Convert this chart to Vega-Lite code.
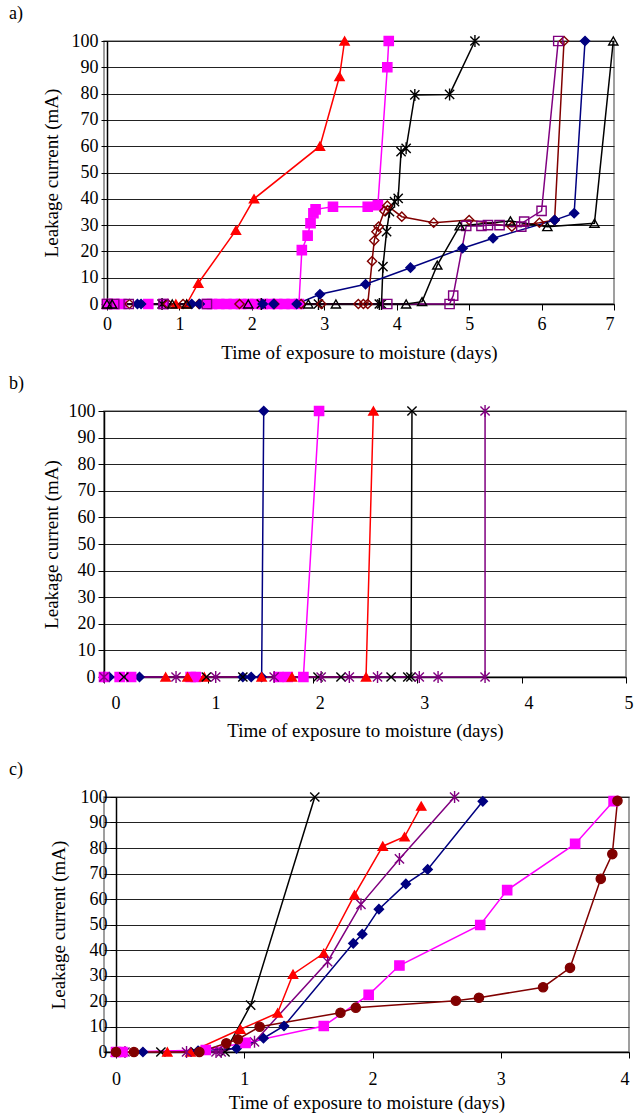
{
  "$schema": "https://vega.github.io/schema/vega-lite/v6.json",
  "background": "white",
  "padding": {"left": 8, "top": 4, "right": 0, "bottom": 0},
  "config": {
    "font": "Liberation Serif",
    "view": {"stroke": "#808080", "strokeWidth": 1.5},
    "axis": {"labelFont": "Liberation Serif", "labelFontSize": 18, "labelColor": "black", "titleFont": "Liberation Serif", "titleFontSize": 19, "titleFontWeight": "normal", "titleColor": "black", "domainColor": "black", "domainWidth": 1.5, "tickColor": "black", "tickSize": 6, "tickWidth": 1},
    "title": {"font": "Liberation Serif", "fontSize": 18, "fontWeight": "normal", "anchor": "start", "color": "black", "frame": "group"}
  },
  "spacing": 11,
  "datasets": {
    "a": [
      {"s": "red", "t": 0, "i": 0}, {"s": "red", "t": 0.07, "i": 0}, {"s": "red", "t": 0.95, "i": 0}, {"s": "red", "t": 1.1, "i": 0}, {"s": "red", "t": 1.26, "i": 7.9}, {"s": "red", "t": 1.78, "i": 28}, {"s": "red", "t": 2.03, "i": 40}, {"s": "red", "t": 2.94, "i": 60}, {"s": "red", "t": 3.21, "i": 86.5}, {"s": "red", "t": 3.28, "i": 100},
      {"s": "mag", "t": 0, "i": 0}, {"s": "mag", "t": 0.1, "i": 0}, {"s": "mag", "t": 0.2, "i": 0}, {"s": "mag", "t": 0.57, "i": 0}, {"s": "mag", "t": 0.78, "i": 0}, {"s": "mag", "t": 1.38, "i": 0}, {"s": "mag", "t": 1.45, "i": 0}, {"s": "mag", "t": 1.55, "i": 0}, {"s": "mag", "t": 1.65, "i": 0}, {"s": "mag", "t": 1.75, "i": 0}, {"s": "mag", "t": 1.85, "i": 0}, {"s": "mag", "t": 1.95, "i": 0}, {"s": "mag", "t": 2.05, "i": 0}, {"s": "mag", "t": 2.15, "i": 0}, {"s": "mag", "t": 2.25, "i": 0}, {"s": "mag", "t": 2.35, "i": 0}, {"s": "mag", "t": 2.45, "i": 0}, {"s": "mag", "t": 2.55, "i": 0}, {"s": "mag", "t": 2.65, "i": 0}, {"s": "mag", "t": 2.69, "i": 20.5}, {"s": "mag", "t": 2.77, "i": 26}, {"s": "mag", "t": 2.81, "i": 30.7}, {"s": "mag", "t": 2.85, "i": 34.5}, {"s": "mag", "t": 2.88, "i": 36}, {"s": "mag", "t": 3.12, "i": 37}, {"s": "mag", "t": 3.6, "i": 37}, {"s": "mag", "t": 3.74, "i": 37.6}, {"s": "mag", "t": 3.87, "i": 90}, {"s": "mag", "t": 3.89, "i": 100},
      {"s": "blkA", "t": 0.76, "i": 0}, {"s": "blkA", "t": 2.13, "i": 0}, {"s": "blkA", "t": 2.92, "i": 0}, {"s": "blkA", "t": 3.76, "i": 0}, {"s": "blkA", "t": 3.79, "i": 0}, {"s": "blkA", "t": 3.81, "i": 14.2}, {"s": "blkA", "t": 3.86, "i": 27.5}, {"s": "blkA", "t": 3.9, "i": 35.1}, {"s": "blkA", "t": 3.97, "i": 38.9}, {"s": "blkA", "t": 4.02, "i": 40.2}, {"s": "blkA", "t": 4.06, "i": 57.9}, {"s": "blkA", "t": 4.13, "i": 59.2}, {"s": "blkA", "t": 4.25, "i": 79.5}, {"s": "blkA", "t": 4.73, "i": 79.7}, {"s": "blkA", "t": 5.08, "i": 100},
      {"s": "mar", "t": 0.31, "i": 0}, {"s": "mar", "t": 0.84, "i": 0}, {"s": "mar", "t": 1.05, "i": 0}, {"s": "mar", "t": 1.27, "i": 0}, {"s": "mar", "t": 1.83, "i": 0}, {"s": "mar", "t": 2.31, "i": 0}, {"s": "mar", "t": 2.68, "i": 0}, {"s": "mar", "t": 2.96, "i": 0}, {"s": "mar", "t": 3.47, "i": 0}, {"s": "mar", "t": 3.54, "i": 0}, {"s": "mar", "t": 3.6, "i": 0}, {"s": "mar", "t": 3.66, "i": 16.3}, {"s": "mar", "t": 3.69, "i": 24.1}, {"s": "mar", "t": 3.72, "i": 27.5}, {"s": "mar", "t": 3.75, "i": 29.4}, {"s": "mar", "t": 3.83, "i": 35.4}, {"s": "mar", "t": 3.87, "i": 37.4}, {"s": "mar", "t": 4.07, "i": 33.2}, {"s": "mar", "t": 4.51, "i": 30.9}, {"s": "mar", "t": 5.0, "i": 31.9}, {"s": "mar", "t": 5.59, "i": 29.4}, {"s": "mar", "t": 5.97, "i": 30.9}, {"s": "mar", "t": 6.18, "i": 31.9}, {"s": "mar", "t": 6.31, "i": 100},
      {"s": "navy", "t": 0.42, "i": 0}, {"s": "navy", "t": 0.47, "i": 0}, {"s": "navy", "t": 1.17, "i": 0}, {"s": "navy", "t": 1.28, "i": 0}, {"s": "navy", "t": 2.15, "i": 0}, {"s": "navy", "t": 2.3, "i": 0}, {"s": "navy", "t": 2.62, "i": 0}, {"s": "navy", "t": 2.94, "i": 3.7}, {"s": "navy", "t": 3.57, "i": 7.5}, {"s": "navy", "t": 4.19, "i": 13.8}, {"s": "navy", "t": 4.91, "i": 21.2}, {"s": "navy", "t": 5.33, "i": 25}, {"s": "navy", "t": 6.18, "i": 31.9}, {"s": "navy", "t": 6.45, "i": 34.5}, {"s": "navy", "t": 6.6, "i": 100},
      {"s": "pur", "t": 0, "i": 0}, {"s": "pur", "t": 0.1, "i": 0}, {"s": "pur", "t": 0.3, "i": 0}, {"s": "pur", "t": 0.78, "i": 0}, {"s": "pur", "t": 1.38, "i": 0}, {"s": "pur", "t": 3.87, "i": 0}, {"s": "pur", "t": 4.73, "i": 0}, {"s": "pur", "t": 4.78, "i": 3.2}, {"s": "pur", "t": 4.96, "i": 29.7}, {"s": "pur", "t": 5.17, "i": 29.7}, {"s": "pur", "t": 5.26, "i": 30}, {"s": "pur", "t": 5.42, "i": 30}, {"s": "pur", "t": 5.72, "i": 29.4}, {"s": "pur", "t": 5.76, "i": 31.3}, {"s": "pur", "t": 6.0, "i": 35.4}, {"s": "pur", "t": 6.23, "i": 100},
      {"s": "blkT", "t": 0, "i": 0}, {"s": "blkT", "t": 0.07, "i": 0}, {"s": "blkT", "t": 0.9, "i": 0}, {"s": "blkT", "t": 1.1, "i": 0}, {"s": "blkT", "t": 1.95, "i": 0}, {"s": "blkT", "t": 2.78, "i": 0}, {"s": "blkT", "t": 3.16, "i": 0}, {"s": "blkT", "t": 4.13, "i": 0}, {"s": "blkT", "t": 4.35, "i": 0.9}, {"s": "blkT", "t": 4.56, "i": 14.8}, {"s": "blkT", "t": 4.87, "i": 29.7}, {"s": "blkT", "t": 5.57, "i": 31.6}, {"s": "blkT", "t": 6.08, "i": 29.4}, {"s": "blkT", "t": 6.73, "i": 30.7}, {"s": "blkT", "t": 6.99, "i": 100}
    ],
    "b": [
      {"s": "navy", "t": 0, "i": 0}, {"s": "navy", "t": 0.05, "i": 0}, {"s": "navy", "t": 0.34, "i": 0}, {"s": "navy", "t": 1.33, "i": 0}, {"s": "navy", "t": 1.41, "i": 0}, {"s": "navy", "t": 1.51, "i": 0}, {"s": "navy", "t": 1.53, "i": 100},
      {"s": "mag", "t": 0, "i": 0}, {"s": "mag", "t": 0.15, "i": 0}, {"s": "mag", "t": 0.26, "i": 0}, {"s": "mag", "t": 0.83, "i": 0}, {"s": "mag", "t": 0.88, "i": 0}, {"s": "mag", "t": 1.67, "i": 0}, {"s": "mag", "t": 1.76, "i": 0}, {"s": "mag", "t": 1.91, "i": 0}, {"s": "mag", "t": 2.06, "i": 100},
      {"s": "red", "t": 0.59, "i": 0}, {"s": "red", "t": 0.8, "i": 0}, {"s": "red", "t": 0.96, "i": 0}, {"s": "red", "t": 1.51, "i": 0}, {"s": "red", "t": 1.8, "i": 0}, {"s": "red", "t": 2.51, "i": 0}, {"s": "red", "t": 2.58, "i": 100},
      {"s": "blkX", "t": 0.19, "i": 0}, {"s": "blkX", "t": 0.98, "i": 0}, {"s": "blkX", "t": 1.33, "i": 0}, {"s": "blkX", "t": 2.05, "i": 0}, {"s": "blkX", "t": 2.27, "i": 0}, {"s": "blkX", "t": 2.75, "i": 0}, {"s": "blkX", "t": 2.91, "i": 0}, {"s": "blkX", "t": 2.94, "i": 0}, {"s": "blkX", "t": 2.95, "i": 100},
      {"s": "pur", "t": 0, "i": 0}, {"s": "pur", "t": 0.69, "i": 0}, {"s": "pur", "t": 1.07, "i": 0}, {"s": "pur", "t": 1.63, "i": 0}, {"s": "pur", "t": 2.08, "i": 0}, {"s": "pur", "t": 2.35, "i": 0}, {"s": "pur", "t": 2.62, "i": 0}, {"s": "pur", "t": 3.02, "i": 0}, {"s": "pur", "t": 3.2, "i": 0}, {"s": "pur", "t": 3.65, "i": 0}, {"s": "pur", "t": 3.65, "i": 100}
    ],
    "c": [
      {"s": "blkX", "t": 0.35, "i": 0}, {"s": "blkX", "t": 0.62, "i": 0}, {"s": "blkX", "t": 0.85, "i": 0}, {"s": "blkX", "t": 1.05, "i": 18.4}, {"s": "blkX", "t": 1.55, "i": 100},
      {"s": "red", "t": 0, "i": 0}, {"s": "red", "t": 0.4, "i": 0}, {"s": "red", "t": 0.58, "i": 0}, {"s": "red", "t": 0.97, "i": 8.9}, {"s": "red", "t": 1.26, "i": 15.3}, {"s": "red", "t": 1.38, "i": 30.5}, {"s": "red", "t": 1.62, "i": 38.7}, {"s": "red", "t": 1.86, "i": 61.6}, {"s": "red", "t": 2.08, "i": 80.7}, {"s": "red", "t": 2.25, "i": 84.4}, {"s": "red", "t": 2.38, "i": 96.4},
      {"s": "pur", "t": 0.07, "i": 0}, {"s": "pur", "t": 0.55, "i": 0}, {"s": "pur", "t": 0.78, "i": 0}, {"s": "pur", "t": 0.82, "i": 0}, {"s": "pur", "t": 1.08, "i": 4}, {"s": "pur", "t": 1.65, "i": 35.4}, {"s": "pur", "t": 1.91, "i": 57.9}, {"s": "pur", "t": 2.21, "i": 75.7}, {"s": "pur", "t": 2.64, "i": 100},
      {"s": "navy", "t": 0.21, "i": 0}, {"s": "navy", "t": 0.64, "i": 0.5}, {"s": "navy", "t": 0.94, "i": 1.4}, {"s": "navy", "t": 1.15, "i": 5.4}, {"s": "navy", "t": 1.31, "i": 10.2}, {"s": "navy", "t": 1.85, "i": 42.6}, {"s": "navy", "t": 1.92, "i": 46.2}, {"s": "navy", "t": 2.05, "i": 56}, {"s": "navy", "t": 2.26, "i": 65.9}, {"s": "navy", "t": 2.43, "i": 71.6}, {"s": "navy", "t": 2.86, "i": 98.3},
      {"s": "mag", "t": 0, "i": 0}, {"s": "mag", "t": 0.05, "i": 0}, {"s": "mag", "t": 0.7, "i": 0.8}, {"s": "mag", "t": 1.01, "i": 3.6}, {"s": "mag", "t": 1.62, "i": 10.2}, {"s": "mag", "t": 1.97, "i": 22.4}, {"s": "mag", "t": 2.21, "i": 33.9}, {"s": "mag", "t": 2.84, "i": 49.8}, {"s": "mag", "t": 3.05, "i": 63.5}, {"s": "mag", "t": 3.58, "i": 81.6}, {"s": "mag", "t": 3.88, "i": 98.4},
      {"s": "mar", "t": 0, "i": 0}, {"s": "mar", "t": 0.14, "i": 0}, {"s": "mar", "t": 0.65, "i": 0}, {"s": "mar", "t": 0.86, "i": 3.4}, {"s": "mar", "t": 0.95, "i": 5}, {"s": "mar", "t": 1.12, "i": 9.9}, {"s": "mar", "t": 1.75, "i": 15.4}, {"s": "mar", "t": 1.87, "i": 17.4}, {"s": "mar", "t": 2.65, "i": 20.1}, {"s": "mar", "t": 2.83, "i": 21.3}, {"s": "mar", "t": 3.33, "i": 25.4}, {"s": "mar", "t": 3.54, "i": 33}, {"s": "mar", "t": 3.78, "i": 67.9}, {"s": "mar", "t": 3.87, "i": 77.6}, {"s": "mar", "t": 3.91, "i": 98.5}
    ]
  },
  "resolve": {"scale": {"x": "independent", "y": "independent", "stroke": "independent", "fill": "independent", "shape": "independent"}},
  "vconcat": [
    {
      "title": {"text": "a)", "dx": -95, "offset": 9},
      "width": 510, "height": 263,
      "data": {"name": "a"},
      "encoding": {
        "x": {"field": "t", "type": "quantitative", "scale": {"domain": [-0.0414, 7], "nice": false, "zero": false}, "axis": {"values": [0, 1, 2, 3, 4, 5, 6, 7], "grid": false, "labelPadding": 5, "titlePadding": 10, "title": "Time of exposure to moisture (days)"}},
        "y": {"field": "i", "type": "quantitative", "scale": {"domain": [0, 100], "nice": false}, "axis": {"values": [0, 10, 20, 30, 40, 50, 60, 70, 80, 90, 100], "offset": -3, "grid": true, "gridColor": "#222222", "gridWidth": 1, "labelPadding": 3, "titlePadding": 10, "title": "Leakage current (mA)"}},
        "stroke": {"field": "s", "type": "nominal", "legend": null, "scale": {"domain": ["red", "mag", "blkA", "mar", "navy", "pur", "blkT"], "range": ["#FF0000", "#FF00FF", "#000000", "#800000", "#000080", "#800080", "#000000"]}}
      },
      "layer": [
        {"mark": {"type": "line", "strokeWidth": 1.5}, "encoding": {"order": {"value": null}}},
        {"mark": {"type": "point", "filled": true, "size": 85, "strokeWidth": 1.4, "opacity": 1},
         "encoding": {
           "fill": {"field": "s", "type": "nominal", "legend": null, "scale": {"domain": ["red", "mag", "blkA", "mar", "navy", "pur", "blkT"], "range": ["#FF0000", "#FF00FF", "transparent", "transparent", "#000080", "transparent", "transparent"]}},
           "shape": {"field": "s", "type": "nominal", "legend": null, "scale": {"domain": ["red", "mag", "blkA", "mar", "navy", "pur", "blkT"], "range": ["triangle-up", "square", "M-1,-1L1,1M-1,1L1,-1M0,-1.3L0,1.3", "diamond", "diamond", "square", "triangle-up"]}}
         }}
      ]
    },
    {
      "title": {"text": "b)", "dx": -95, "offset": 9},
      "width": 522, "height": 266,
      "data": {"name": "b"},
      "encoding": {
        "x": {"field": "t", "type": "quantitative", "scale": {"domain": [0, 5], "nice": false}, "axis": {"values": [0, 1, 2, 3, 4, 5], "grid": false, "labelPadding": 11, "labelOffset": 7, "titlePadding": 9, "title": "Time of exposure to moisture (days)"}},
        "y": {"field": "i", "type": "quantitative", "scale": {"domain": [0, 100], "nice": false}, "axis": {"values": [0, 10, 20, 30, 40, 50, 60, 70, 80, 90, 100], "grid": true, "gridColor": "#222222", "gridWidth": 1, "labelPadding": 3, "titlePadding": 7, "title": "Leakage current (mA)"}},
        "stroke": {"field": "s", "type": "nominal", "legend": null, "scale": {"domain": ["navy", "mag", "red", "blkX", "pur"], "range": ["#000080", "#FF00FF", "#FF0000", "#000000", "#800080"]}}
      },
      "layer": [
        {"mark": {"type": "line", "strokeWidth": 1.5}, "encoding": {"order": {"value": null}}},
        {"mark": {"type": "point", "filled": true, "size": 85, "strokeWidth": 1.4, "opacity": 1},
         "encoding": {
           "fill": {"field": "s", "type": "nominal", "legend": null, "scale": {"domain": ["navy", "mag", "red", "blkX", "pur"], "range": ["#000080", "#FF00FF", "#FF0000", "transparent", "transparent"]}},
           "shape": {"field": "s", "type": "nominal", "legend": null, "scale": {"domain": ["navy", "mag", "red", "blkX", "pur"], "range": ["diamond", "square", "triangle-up", "M-1,-1L1,1M-1,1L1,-1", "M-1,-1L1,1M-1,1L1,-1M0,-1.3L0,1.3"]}}
         }}
      ]
    },
    {
      "title": {"text": ["", "c)"], "lineHeight": 8, "dx": -95, "offset": 9},
      "width": 525, "height": 255,
      "data": {"name": "c"},
      "encoding": {
        "x": {"field": "t", "type": "quantitative", "scale": {"domain": [-0.0936, 4], "nice": false, "zero": false}, "axis": {"values": [0, 1, 2, 3, 4], "grid": false, "labelPadding": 12, "titlePadding": 5, "title": "Time of exposure to moisture (days)"}},
        "y": {"field": "i", "type": "quantitative", "scale": {"domain": [0, 100], "nice": false}, "axis": {"values": [0, 10, 20, 30, 40, 50, 60, 70, 80, 90, 100], "offset": -12, "grid": true, "gridColor": "#222222", "gridWidth": 1, "labelPadding": 3, "titlePadding": 12, "title": "Leakage current (mA)"}},
        "stroke": {"field": "s", "type": "nominal", "legend": null, "scale": {"domain": ["blkX", "red", "pur", "navy", "mag", "mar"], "range": ["#000000", "#FF0000", "#800080", "#000080", "#FF00FF", "#800000"]}}
      },
      "layer": [
        {"mark": {"type": "line", "strokeWidth": 1.5}, "encoding": {"order": {"value": null}}},
        {"mark": {"type": "point", "filled": true, "size": 85, "strokeWidth": 1.4, "opacity": 1},
         "encoding": {
           "fill": {"field": "s", "type": "nominal", "legend": null, "scale": {"domain": ["blkX", "red", "pur", "navy", "mag", "mar"], "range": ["transparent", "#FF0000", "transparent", "#000080", "#FF00FF", "#800000"]}},
           "shape": {"field": "s", "type": "nominal", "legend": null, "scale": {"domain": ["blkX", "red", "pur", "navy", "mag", "mar"], "range": ["M-1,-1L1,1M-1,1L1,-1", "triangle-up", "M-1,-1L1,1M-1,1L1,-1M0,-1.3L0,1.3", "diamond", "square", "circle"]}}
         }}
      ]
    }
  ]
}
